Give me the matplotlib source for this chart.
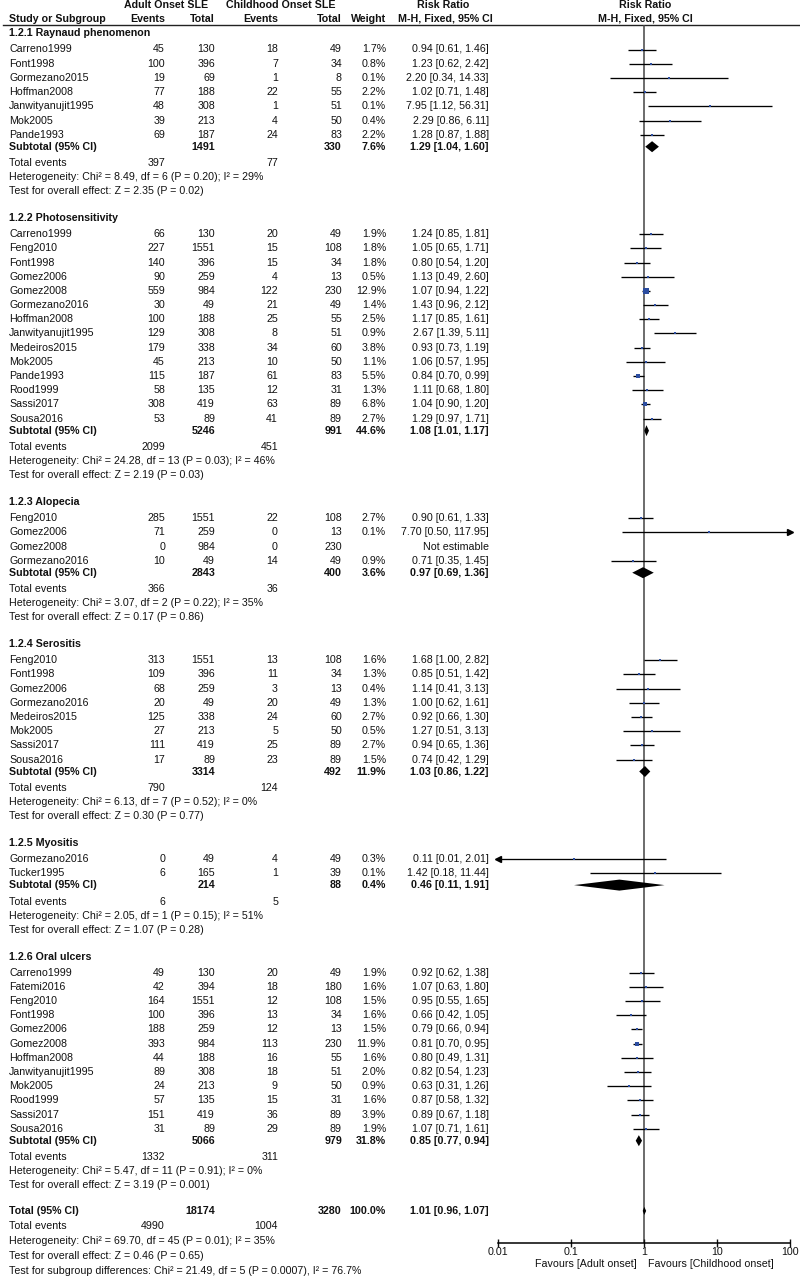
"""
Forest plot: clinical features, adult onset vs childhood onset SLE
(risk ratio, M-H fixed effect, 95% CI). Saves out.png (800 x 1277).
"""

import matplotlib.pyplot as plt

plt.rcParams["font.family"] = ["Liberation Sans", "DejaVu Sans"]

# --- Data -------------------------------------------------------------------
# study, adult events, adult total, child events, child total, weight %, RR, lo, hi
RAYNAUD = [
    ("Carreno1999",       45,  130,  18,  49, 1.7, 0.94, 0.61, 1.46),
    ("Font1998",         100,  396,   7,  34, 0.8, 1.23, 0.62, 2.42),
    ("Gormezano2015",     19,   69,   1,   8, 0.1, 2.20, 0.34, 14.33),
    ("Hoffman2008",       77,  188,  22,  55, 2.2, 1.02, 0.71, 1.48),
    ("Janwityanujit1995", 48,  308,   1,  51, 0.1, 7.95, 1.12, 56.31),
    ("Mok2005",           39,  213,   4,  50, 0.4, 2.29, 0.86, 6.11),
    ("Pande1993",         69,  187,  24,  83, 2.2, 1.28, 0.87, 1.88),
]
PHOTOSENSITIVITY = [
    ("Carreno1999",        66,  130,  20,  49,  1.9, 1.24, 0.85, 1.81),
    ("Feng2010",          227, 1551,  15, 108,  1.8, 1.05, 0.65, 1.71),
    ("Font1998",          140,  396,  15,  34,  1.8, 0.80, 0.54, 1.20),
    ("Gomez2006",          90,  259,   4,  13,  0.5, 1.13, 0.49, 2.60),
    ("Gomez2008",         559,  984, 122, 230, 12.9, 1.07, 0.94, 1.22),
    ("Gormezano2016",      30,   49,  21,  49,  1.4, 1.43, 0.96, 2.12),
    ("Hoffman2008",       100,  188,  25,  55,  2.5, 1.17, 0.85, 1.61),
    ("Janwityanujit1995", 129,  308,   8,  51,  0.9, 2.67, 1.39, 5.11),
    ("Medeiros2015",      179,  338,  34,  60,  3.8, 0.93, 0.73, 1.19),
    ("Mok2005",            45,  213,  10,  50,  1.1, 1.06, 0.57, 1.95),
    ("Pande1993",         115,  187,  61,  83,  5.5, 0.84, 0.70, 0.99),
    ("Rood1999",           58,  135,  12,  31,  1.3, 1.11, 0.68, 1.80),
    ("Sassi2017",         308,  419,  63,  89,  6.8, 1.04, 0.90, 1.20),
    ("Sousa2016",          53,   89,  41,  89,  2.7, 1.29, 0.97, 1.71),
]
ALOPECIA = [
    ("Feng2010",      285, 1551, 22, 108, 2.7, 0.90, 0.61, 1.33),
    ("Gomez2006",      71,  259,  0,  13, 0.1, 7.70, 0.50, 117.95),
    ("Gomez2008",       0,  984,  0, 230, None, None, None, None),
    ("Gormezano2016",  10,   49, 14,  49, 0.9, 0.71, 0.35, 1.45),
]
SEROSITIS = [
    ("Feng2010",      313, 1551, 13, 108, 1.6, 1.68, 1.00, 2.82),
    ("Font1998",      109,  396, 11,  34, 1.3, 0.85, 0.51, 1.42),
    ("Gomez2006",      68,  259,  3,  13, 0.4, 1.14, 0.41, 3.13),
    ("Gormezano2016",  20,   49, 20,  49, 1.3, 1.00, 0.62, 1.61),
    ("Medeiros2015",  125,  338, 24,  60, 2.7, 0.92, 0.66, 1.30),
    ("Mok2005",        27,  213,  5,  50, 0.5, 1.27, 0.51, 3.13),
    ("Sassi2017",     111,  419, 25,  89, 2.7, 0.94, 0.65, 1.36),
    ("Sousa2016",      17,   89, 23,  89, 1.5, 0.74, 0.42, 1.29),
]
MYOSITIS = [
    ("Gormezano2016", 0,  49, 4, 49, 0.3, 0.11, 0.01, 2.01),
    ("Tucker1995",    6, 165, 1, 39, 0.1, 1.42, 0.18, 11.44),
]
ORAL_ULCERS = [
    ("Carreno1999",        49,  130,  20,  49,  1.9, 0.92, 0.62, 1.38),
    ("Fatemi2016",         42,  394,  18, 180,  1.6, 1.07, 0.63, 1.80),
    ("Feng2010",          164, 1551,  12, 108,  1.5, 0.95, 0.55, 1.65),
    ("Font1998",          100,  396,  13,  34,  1.6, 0.66, 0.42, 1.05),
    ("Gomez2006",         188,  259,  12,  13,  1.5, 0.79, 0.66, 0.94),
    ("Gomez2008",         393,  984, 113, 230, 11.9, 0.81, 0.70, 0.95),
    ("Hoffman2008",        44,  188,  16,  55,  1.6, 0.80, 0.49, 1.31),
    ("Janwityanujit1995",  89,  308,  18,  51,  2.0, 0.82, 0.54, 1.23),
    ("Mok2005",            24,  213,   9,  50,  0.9, 0.63, 0.31, 1.26),
    ("Rood1999",           57,  135,  15,  31,  1.6, 0.87, 0.58, 1.32),
    ("Sassi2017",         151,  419,  36,  89,  3.9, 0.89, 0.67, 1.18),
    ("Sousa2016",          31,   89,  29,  89,  1.9, 1.07, 0.71, 1.61),
]

SECTION_TITLES = ["1.2.1 Raynaud phenomenon", "1.2.2 Photosensitivity",
                  "1.2.3 Alopecia", "1.2.4 Serositis", "1.2.5 Myositis",
                  "1.2.6 Oral ulcers"]
SECTION_STUDIES = [RAYNAUD, PHOTOSENSITIVITY, ALOPECIA, SEROSITIS, MYOSITIS,
                   ORAL_ULCERS]
# subtotal: adult total, child total, weight %, RR, lo, hi
SUBTOTALS = [
    (1491, 330, 7.6, 1.29, 1.04, 1.60),
    (5246, 991, 44.6, 1.08, 1.01, 1.17),
    (2843, 400, 3.6, 0.97, 0.69, 1.36),
    (3314, 492, 11.9, 1.03, 0.86, 1.22),
    (214, 88, 0.4, 0.46, 0.11, 1.91),
    (5066, 979, 31.8, 0.85, 0.77, 0.94),
]
TOTAL_EVENTS = [(397, 77), (2099, 451), (366, 36), (790, 124), (6, 5),
                (1332, 311)]
# heterogeneity: chi2, df, P, I2
HETEROGENEITY = [("8.49", 6, "0.20", "29%"), ("24.28", 13, "0.03", "46%"),
                 ("3.07", 2, "0.22", "35%"), ("6.13", 7, "0.52", "0%"),
                 ("2.05", 1, "0.15", "51%"), ("5.47", 11, "0.91", "0%")]
# overall effect: Z, P
OVERALL_EFFECT = [("2.35", "0.02"), ("2.19", "0.03"), ("0.17", "0.86"),
                  ("0.30", "0.77"), ("1.07", "0.28"), ("3.19", "0.001")]

GRAND_TOTAL = (18174, 3280, 100.0, 1.01, 0.96, 1.07)
GRAND_EVENTS = (4990, 1004)
GRAND_HET = ("69.70", 45, "0.01", "35%")
GRAND_EFFECT = ("0.46", "0.65")
SUBGROUP_TEST = ("21.49", 5, "0.0007", "76.7%")

AXIS_TICKS = [0.01, 0.1, 1, 10, 100]
AXIS_TICK_LABELS = ["0.01", "0.1", "1", "10", "100"]

# --- Layout (pixels) ----------------------------------------------------------
W, H = 800, 1277
FS = 7.7
TXT = "#111111"
BLUE = "#2c4da0"
X_NAME, X_AE, X_AT, X_CE, X_CT, X_W, X_RR = 9, 165, 215, 278, 342, 386, 489
FOREST_L, FOREST_R = 498, 790
HEAD_LINE_Y, AXIS_Y = 25, 1243
STEP = 14.2

fig = plt.figure(figsize=(W / 100, H / 100), dpi=100)
tx = fig.add_axes([0, 0, 1, 1])
tx.set_xlim(0, W)
tx.set_ylim(H, 0)
tx.axis("off")

fx = fig.add_axes([FOREST_L / W, (H - AXIS_Y) / H,
                   (FOREST_R - FOREST_L) / W, (AXIS_Y - HEAD_LINE_Y) / H])
fx.set_xscale("log")
fx.set_xlim(0.01, 100)
fx.set_ylim(AXIS_Y, HEAD_LINE_Y)
fx.patch.set_alpha(0)
for side in ("top", "right", "left"):
    fx.spines[side].set_visible(False)
fx.spines["bottom"].set_linewidth(1.1)
fx.set_yticks([])
fx.set_xticks(AXIS_TICKS)
fx.set_xticklabels(AXIS_TICK_LABELS)
fx.minorticks_off()
fx.tick_params(axis="x", direction="inout", length=6, width=1.0,
               labelsize=FS, pad=0, colors=TXT)
fx.axvline(1, color="#444444", lw=1.1, zorder=1)


def put(x, y, s, ha="right", bold=False):
    tx.text(x, y, s, ha=ha, va="center", fontsize=FS, color=TXT,
            fontweight="bold" if bold else "normal")


def rr_text(rr, lo, hi):
    return f"{rr:.2f} [{lo:.2f}, {hi:.2f}]"


def draw_study(y, rr, lo, hi, w):
    lo_c, hi_c = max(lo, 0.01), min(hi, 100)
    fx.plot([lo_c, hi_c], [y, y], color="black", lw=0.95, zorder=2,
            solid_capstyle="butt")
    if hi >= 100:
        fx.plot([100], [y], marker=">", color="black", ms=4, zorder=3,
                clip_on=False)
    if lo <= 0.01:
        fx.plot([0.01], [y], marker="<", color="black", ms=4, zorder=3,
                clip_on=False)
    side = 2.0 + 0.25 * w
    fx.plot([rr], [y], marker="s", ms=side * 0.72, color=BLUE, mew=0,
            zorder=4)


def draw_diamond(y, rr, lo, hi, h=5.5):
    fx.fill([lo, rr, hi, rr], [y, y - h, y, y + h], color="black", lw=0,
            zorder=4)


# header
put(166, 5, "Adult Onset SLE", ha="center", bold=True)
put(281, 5, "Childhood Onset SLE", ha="center", bold=True)
put(443, 5, "Risk Ratio", ha="center", bold=True)
put(645, 5, "Risk Ratio", ha="center", bold=True)
put(X_NAME, 18.5, "Study or Subgroup", ha="left", bold=True)
for x, s in [(X_AE, "Events"), (X_AT, "Total"), (X_CE, "Events"),
             (X_CT, "Total"), (X_W, "Weight")]:
    put(x, 18.5, s, bold=True)
put(445, 18.5, "M-H, Fixed, 95% CI", ha="center", bold=True)
put(645, 18.5, "M-H, Fixed, 95% CI", ha="center", bold=True)
tx.plot([3, W], [HEAD_LINE_Y, HEAD_LINE_Y], color="#222222", lw=1.0)

y = 33.5
for i, title in enumerate(SECTION_TITLES):
    put(X_NAME, y, title, ha="left", bold=True)
    y += 16
    for name, ae, at, ce, ct, w, rr, lo, hi in SECTION_STUDIES[i]:
        put(X_NAME, y, name, ha="left")
        put(X_AE, y, str(ae))
        put(X_AT, y, str(at))
        put(X_CE, y, str(ce))
        put(X_CT, y, str(ct))
        if rr is None:
            put(X_RR, y, "Not estimable")
        else:
            put(X_W, y, f"{w:.1f}%")
            put(X_RR, y, rr_text(rr, lo, hi))
            draw_study(y, rr, lo, hi, w)
        y += STEP
    y += 12 - STEP
    at, ct, w, rr, lo, hi = SUBTOTALS[i]
    put(X_NAME, y, "Subtotal (95% CI)", ha="left", bold=True)
    put(X_AT, y, str(at), bold=True)
    put(X_CT, y, str(ct), bold=True)
    put(X_W, y, f"{w:.1f}%", bold=True)
    put(X_RR, y, rr_text(rr, lo, hi), bold=True)
    draw_diamond(y, rr, lo, hi)
    y += 16.5
    put(X_NAME, y, "Total events", ha="left")
    put(X_AE, y, str(TOTAL_EVENTS[i][0]))
    put(X_CE, y, str(TOTAL_EVENTS[i][1]))
    y += 14
    chi, df, p, i2 = HETEROGENEITY[i]
    put(X_NAME, y, f"Heterogeneity: Chi² = {chi}, df = {df} (P = {p}); "
                   f"I² = {i2}", ha="left")
    y += STEP
    z, p = OVERALL_EFFECT[i]
    put(X_NAME, y, f"Test for overall effect: Z = {z} (P = {p})", ha="left")
    y += 26.7

# grand total
y += 25.5 - 26.7
at, ct, w, rr, lo, hi = GRAND_TOTAL
put(X_NAME, y, "Total (95% CI)", ha="left", bold=True)
put(X_AT, y, str(at), bold=True)
put(X_CT, y, str(ct), bold=True)
put(X_W, y, f"{w:.1f}%", bold=True)
put(X_RR, y, rr_text(rr, lo, hi), bold=True)
draw_diamond(y, rr, lo, hi, h=4)
y += 15.5
put(X_NAME, y, "Total events", ha="left")
put(X_AE, y, str(GRAND_EVENTS[0]))
put(X_CE, y, str(GRAND_EVENTS[1]))
y += 15
chi, df, p, i2 = GRAND_HET
put(X_NAME, y, f"Heterogeneity: Chi² = {chi}, df = {df} (P = {p}); I² = {i2}",
    ha="left")
y += 15
z, p = GRAND_EFFECT
put(X_NAME, y, f"Test for overall effect: Z = {z} (P = {p})", ha="left")
y += 15
chi, df, p, i2 = SUBGROUP_TEST
put(X_NAME, y, f"Test for subgroup differences: Chi² = {chi}, df = {df} "
               f"(P = {p}), I² = {i2}", ha="left")

put(637, 1264, "Favours [Adult onset]")
put(648, 1264, "Favours [Childhood onset]", ha="left")

fig.savefig("out.png", dpi=100)
